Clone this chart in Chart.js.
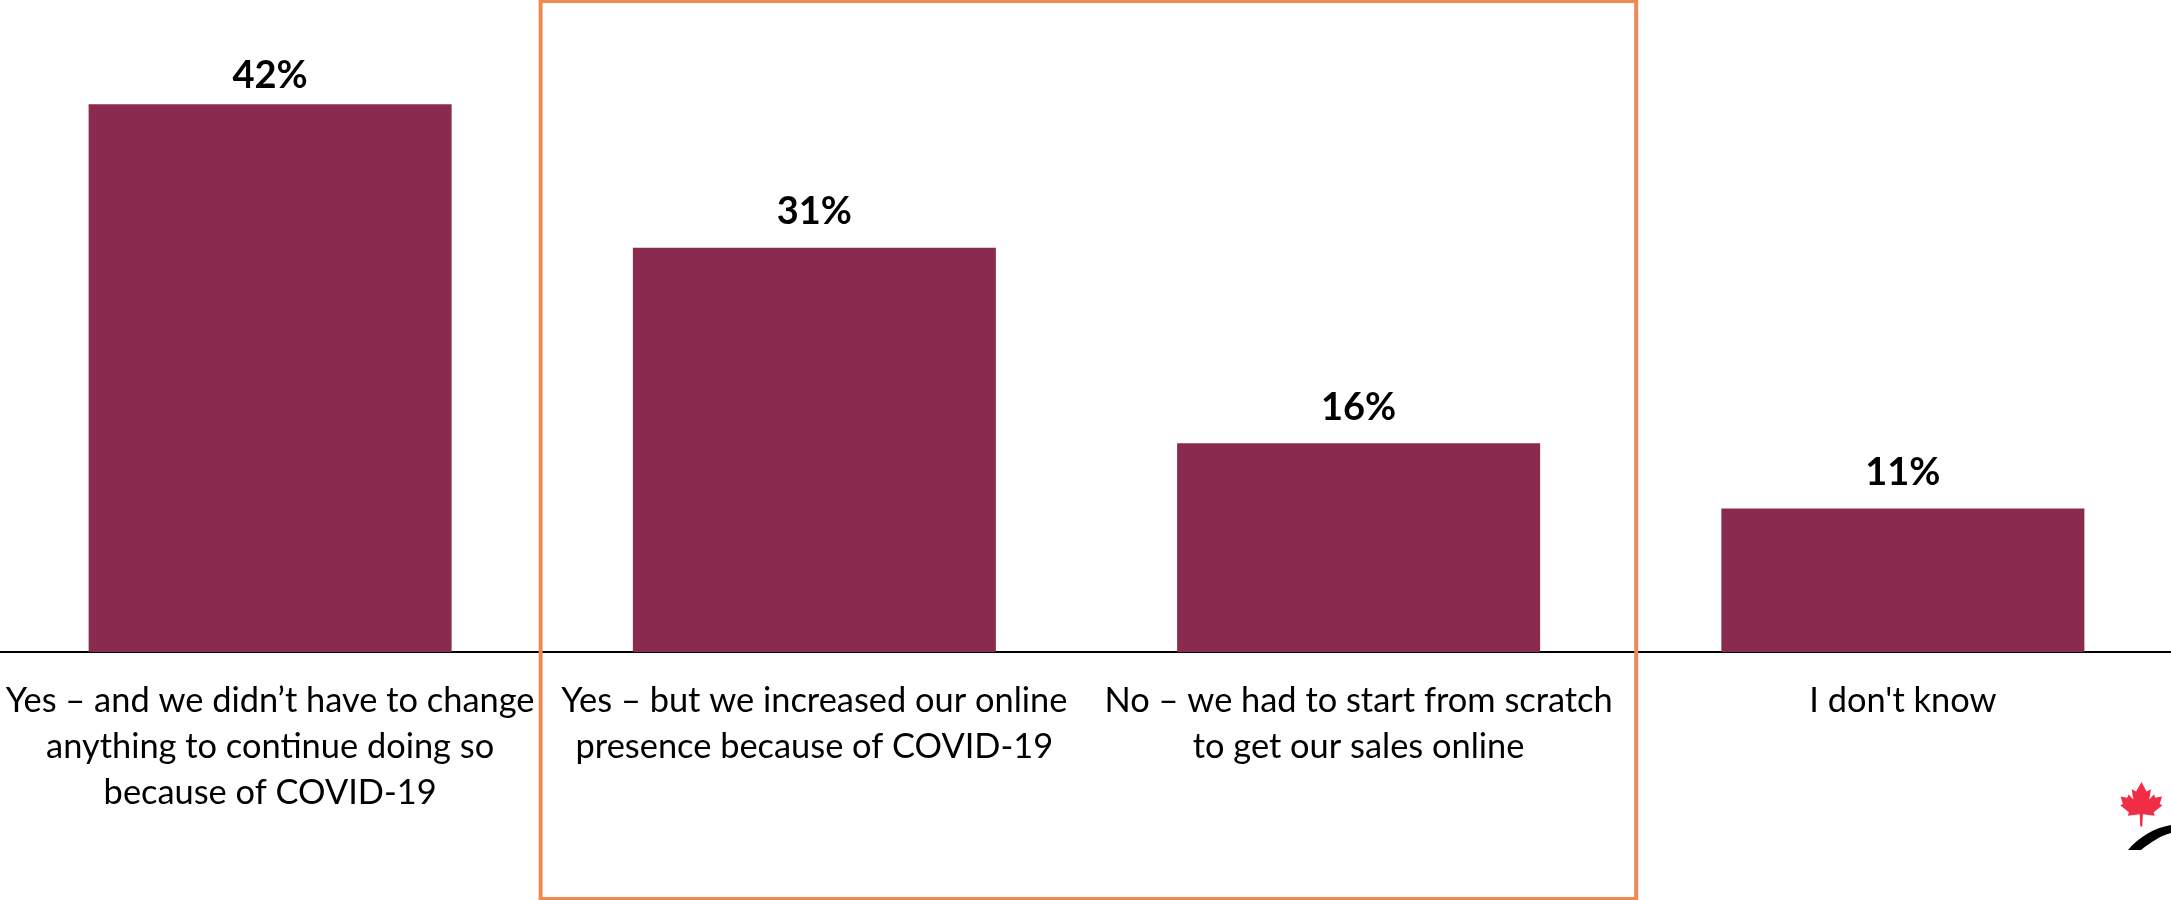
<!DOCTYPE html>
<html>
<head>
<meta charset="utf-8">
<script src="https://cdn.jsdelivr.net/npm/chart.js@4"></script>
<style>
  html, body { margin: 0; padding: 0; background: #fff; overflow: hidden; }
  #wrap { position: absolute; left: -2px; top: 0; width: 2177px; height: 900px; }
  #logo { position: absolute; left: 2110px; top: 770px; width: 61px; height: 80px; overflow: hidden; }
</style>
</head>
<body>
<div id="wrap"><canvas id="chart"></canvas></div>
<svg id="logo" viewBox="2110 770 61 80" xmlns="http://www.w3.org/2000/svg">
  <path fill="#f02d45" d="M2141.5 782l5 9.500 4.500-2.300-1.800 10.300 4.800-5 1.300 3.200 6.700-1.200-2.300 7.500 2.700 1.300-8.700 7 1 3.500-11.800-1.500-.6 12.200h-2l-.6-12.200-11.800 1.500 1-3.500-8.700-7 2.700-1.300-2.300-7.500 6.700 1.200 1.300-3.200 4.800 5-1.800-10.300 4.500 2.300z"/>
  <path fill="#000" d="M2128 850c11-13 26-22 43-25v8c-11 3-20 9-30 17z"/>
</svg>
<script>
// Survey answers and their shares, in percent
const categories = [
  ["Yes – and we didn’t have to change", "anything to continue doing so", "because of COVID-19"],
  ["Yes – but we increased our online", "presence because of COVID-19"],
  ["No – we had to start from scratch", "to get our sales online"],
  ["I don't know"]
];
const shares = [42, 31, 16, 11];
const yAxisMax = 50;
const barColor = "#8a2a4e";
const frameColor = "#ed8a52";
// Category span outlined by the highlight frame
const frameFrom = 0.497;
const frameTo = 2.51;

const labelFont = "Lato, Carlito, sans-serif";

// Prints the share above each bar, keeping the tallest one's label on the page
const valueLabels = {
  id: "valueLabels",
  afterDatasetsDraw(chart) {
    const { ctx } = chart;
    const bars = chart.getDatasetMeta(0).data;
    ctx.save();
    ctx.font = "bold 38px " + labelFont;
    ctx.fillStyle = "#000";
    ctx.textAlign = "center";
    ctx.textBaseline = "middle";
    bars.forEach((bar, i) => ctx.fillText(shares[i] + "%", bar.x, Math.max(76, bar.y - 36)));
    ctx.restore();
  }
};

// Outlines the two middle answers
const highlightFrame = {
  id: "highlightFrame",
  afterDraw(chart) {
    const { ctx, chartArea, scales } = chart;
    const left = scales.x.getPixelForValue(frameFrom);
    const right = scales.x.getPixelForValue(frameTo);
    ctx.save();
    ctx.strokeStyle = frameColor;
    ctx.lineWidth = 4;
    ctx.strokeRect(left, chartArea.top + 1, right - left, chart.height - 2);
    ctx.restore();
  }
};

new Chart(document.getElementById("chart"), {
  type: "bar",
  data: {
    labels: categories,
    datasets: [{ data: shares, backgroundColor: barColor, categoryPercentage: 0.667, barPercentage: 1 }]
  },
  options: {
    responsive: true,
    maintainAspectRatio: false,
    animation: false,
    layout: { padding: 0 },
    plugins: { legend: { display: false }, tooltip: { enabled: false } },
    scales: {
      x: {
        // Fixed axis band; long labels may run to the page edge without shrinking the plot
        afterFit(axis) {
          axis.height = 248;
          axis.paddingLeft = 0;
          axis.paddingRight = 0;
        },
        grid: { display: false, drawTicks: false },
        border: { display: true, color: "#000", width: 2 },
        ticks: {
          color: "#000",
          padding: 26,
          maxRotation: 0,
          autoSkip: false,
          font: { family: labelFont, size: 34.4, lineHeight: 1.335 }
        }
      },
      y: { display: false, min: 0, max: yAxisMax, grid: { display: false } }
    }
  },
  plugins: [valueLabels, highlightFrame]
});
</script>
</body>
</html>
